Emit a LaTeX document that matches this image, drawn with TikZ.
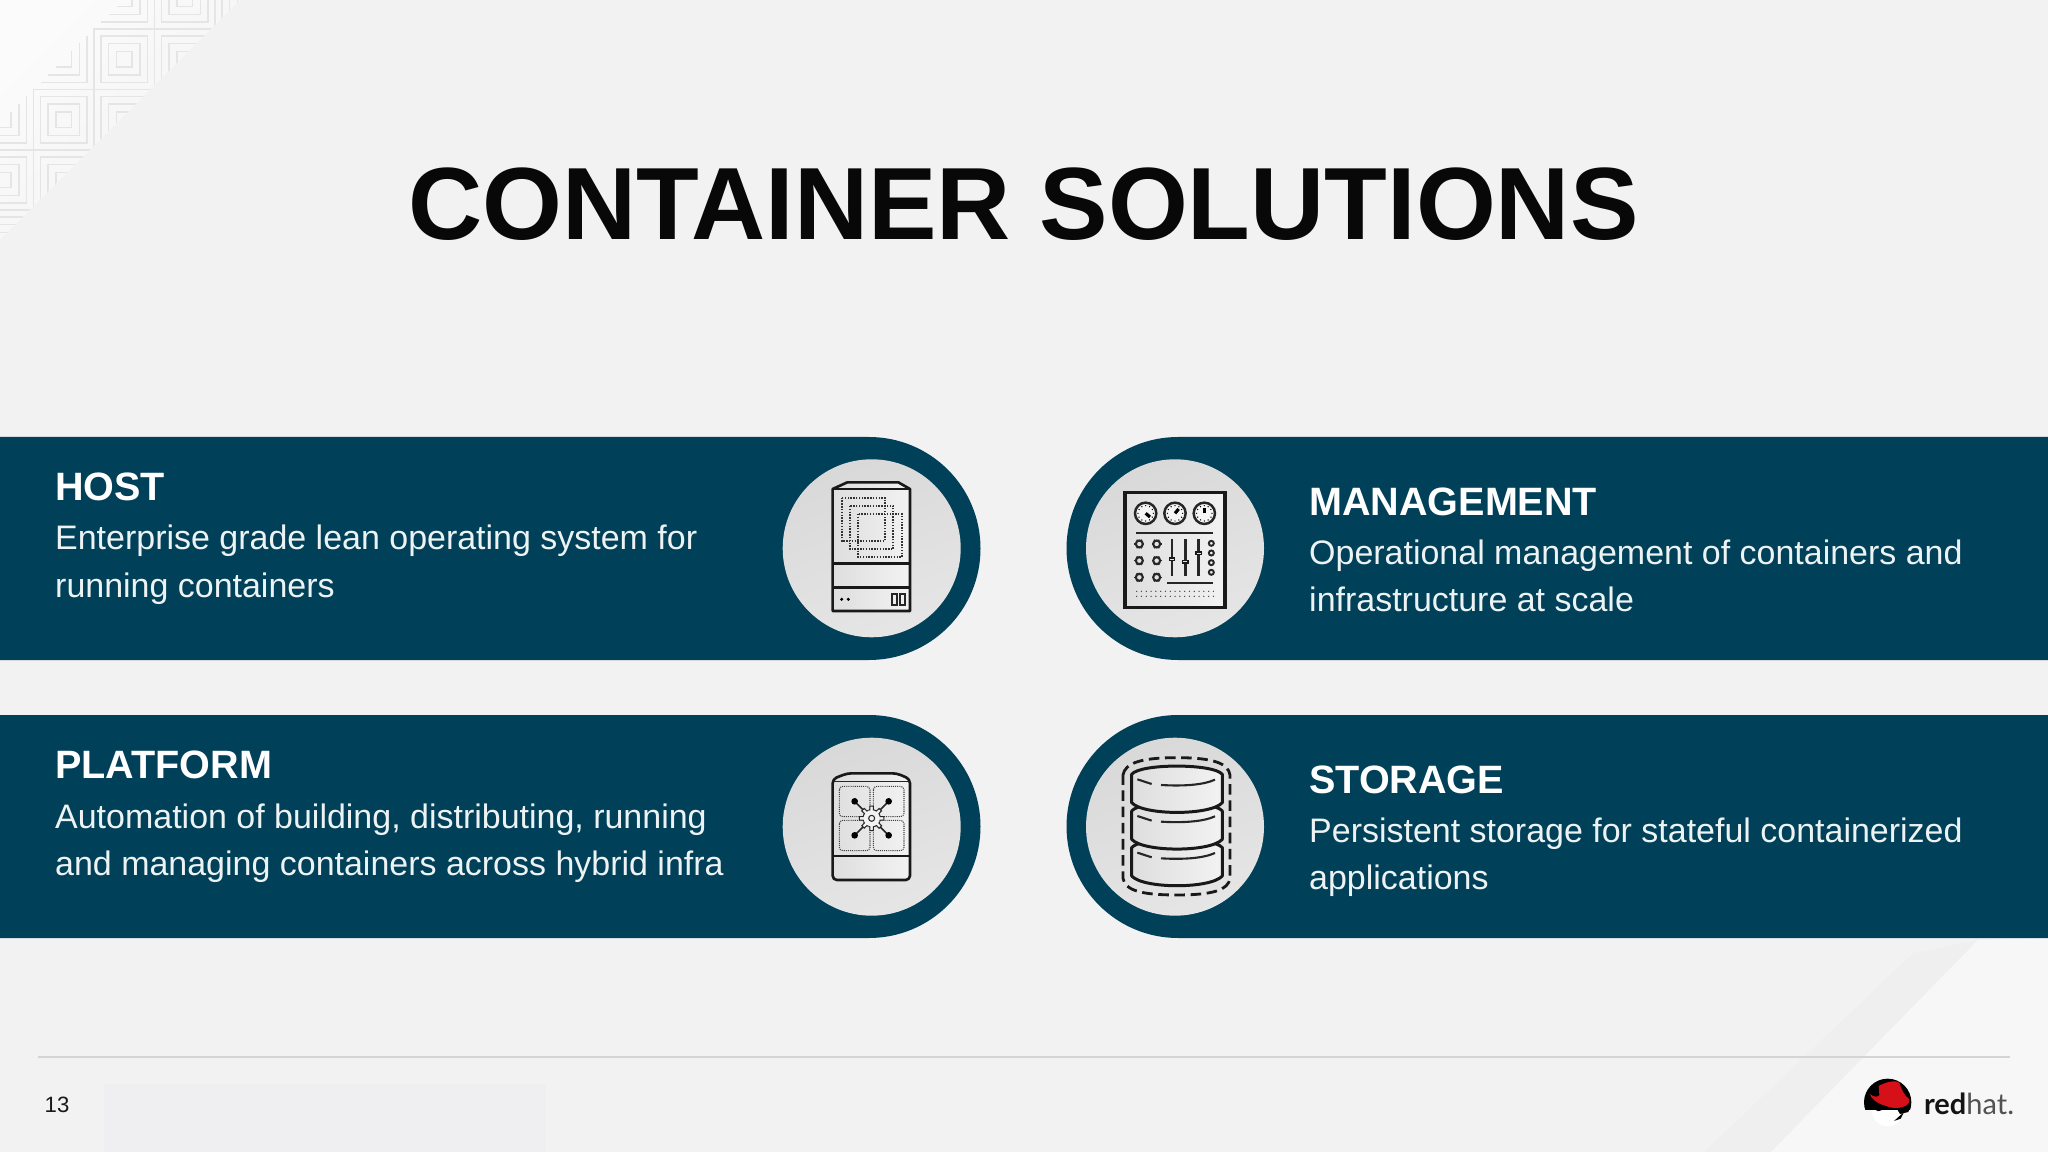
\documentclass[tikz,border=0pt]{standalone}
\usepackage{fontspec}
\setmainfont{Liberation Sans}
\newfontfamily\logofont{Lato}
\usepackage{tikz}
\usetikzlibrary{positioning}
\definecolor{bandblue}{RGB}{0,64,89}
\definecolor{slidebg}{RGB}{242,242,243}
\definecolor{patgrey}{RGB}{229,229,230}
\definecolor{footbox}{RGB}{239,238,240}
\definecolor{hatred}{RGB}{214,16,24}
\tikzset{
	headtext/.style={anchor=base west,text=white,inner sep=0pt,font=\bfseries\fontsize{11.25}{13}\selectfont},
	bodytext/.style={anchor=base west,text=white!93!bandblue,inner sep=0pt,font=\fontsize{9.66}{12}\selectfont},
	band/.style={fill=bandblue,draw=none},
	discbg/.style={left color=black!15,right color=black!10,shading angle=20,draw=none},
	patline/.style={draw=patgrey,line width=0.45pt},
	iconline/.style={draw=black!90,line width=0.75pt,line join=round},
	thinline/.style={draw=black!85,line width=0.4pt},
	iconfill/.style={left color=black!13,right color=black!5}
}
\begin{document}
\begin{tikzpicture}[x=0.01cm,y=-0.01cm]
	\useasboundingbox (0,0) rectangle (2048,1152);
	\fill[slidebg] (0,0) rectangle (2048,1152);

	% corner pattern
	\shade[left color=black!1.5,right color=slidebg,shading angle=45] (0,0) -- (240,0) -- (0,240) -- cycle;
	\begin{scope}
		\clip (0,0) -- (240,0) -- (0,240) -- cycle;
		\foreach \cx/\cy in {154.4/-31.4,94/29,33.6/89.4,-26.8/149.8} {
			\draw[patline] (\cx,\cy) rectangle ++(60.4,60.4);
			\foreach \i in {7,14.5,22.5}
				\draw[patline] (\cx+\i,\cy+\i) rectangle (\cx+60.4-\i,\cy+60.4-\i);
		}
		\foreach \cx/\cy in {94/-31.4,33.6/29,-26.8/89.4,-87.2/149.8}
			\foreach \i in {7,14.5,22.5}
				\draw[patline] (\cx+60.4-\i,\cy+\i) -- (\cx+60.4-\i,\cy+60.4-\i) -- (\cx+\i,\cy+60.4-\i);
		\foreach \cx/\cy in {214.8/-31.4,154.4/29,94/89.4,33.6/149.8,-26.8/210.2}
			\foreach \i in {7,14.5,22.5}
				\draw[patline] (\cx+\i,\cy+60.4-\i) -- (\cx+\i,\cy+\i) -- (\cx+60.4-\i,\cy+\i);
	\end{scope}

	% lower right corner
	\fill[black,fill opacity=0.012] (1913,953) -- (1978,940) -- (1771,1152) -- (1704,1152) -- cycle;
	\fill[white,fill opacity=0.45] (1978,940) -- (2048,938) -- (2048,1152) -- (1771,1152) -- cycle;

	\node[anchor=base,inner sep=0pt,font=\bfseries\fontsize{29.2}{34}\selectfont,text=black!97] (title) at (1023.5,240) {CONTAINER SOLUTIONS};

	% bands
	\fill[band] (0,437) -- (869,437) arc[start angle=-90,end angle=90,radius=111.5] -- (0,660) -- cycle;
	\fill[band] (0,715) -- (869,715) arc[start angle=-90,end angle=90,radius=111.5] -- (0,938) -- cycle;
	\fill[band] (2048,437) -- (1178,437) arc[start angle=-90,end angle=-270,radius=111.5] -- (2048,660) -- cycle;
	\fill[band] (2048,715) -- (1178,715) arc[start angle=-90,end angle=-270,radius=111.5] -- (2048,938) -- cycle;
	\shade[discbg] (871.7,548.3) circle[radius=89];
	\shade[discbg] (871.7,826.7) circle[radius=89];
	\shade[discbg] (1175,548.3) circle[radius=89];
	\shade[discbg] (1175,826.7) circle[radius=89];

	\node[headtext] (hosthead) at (54.5,501) {HOST};
	\node[bodytext] (hostone) at (54.5,550) {Enterprise grade lean operating system for};
	\node[bodytext] (hosttwo) at (54.5,597) {running containers};
	\node[headtext] (platformhead) at (54.5,778) {PLATFORM};
	\node[bodytext] (platformone) at (54.5,828) {Automation of building, distributing, running};
	\node[bodytext] (platformtwo) at (54.5,875) {and managing containers across hybrid infra};
	\node[headtext] (managehead) at (1308.5,515) {MANAGEMENT};
	\node[bodytext] (manageone) at (1308.5,564.5) {Operational management of containers and};
	\node[bodytext] (managetwo) at (1308.5,611.5) {infrastructure at scale};
	\node[headtext] (storagehead) at (1308.5,793) {STORAGE};
	\node[bodytext] (storageone) at (1308.5,842.5) {Persistent storage for stateful containerized};
	\node[bodytext] (storagetwo) at (1308.5,889.5) {applications};

	% host icon
	\begin{scope}[shift={(760,440)},scale=0.3333]
		\shade[iconfill,iconline] (218,147) -- (262,127) -- (415,127) -- (450,147) -- (450,513) -- (218,513) -- cycle;
		\draw[iconline] (218,147) -- (450,147);
		\draw[iconline] (218,370) -- (450,370);
		\draw[iconline] (218,443) -- (450,443);
		\foreach \a/\b in {245/173,270/198,295/222}
			\draw[black!80,line width=0.5pt,dash pattern=on 0.4pt off 0.4pt] (\a,\b) rectangle ++(130,130);
		\fill[black] (245,478) circle[radius=5] (265,478) circle[radius=5];
		\draw[thinline,line width=0.5pt] (396,463) rectangle (411,495) (420,463) rectangle (435,495);
	\end{scope}

	% platform icon
	\begin{scope}[shift={(760,715)},scale=0.3333]
		\shade[iconfill,iconline,rounded corners=1.2pt] (218,192) -- (262,175) -- (410,175) -- (450,192) -- (450,495) -- (218,495) -- cycle;
		\draw[thinline] (218,200) -- (450,200);
		\draw[iconline] (218,423) -- (450,423);
		\foreach \a/\b in {238/214,340/214,238/316,340/316}
			\draw[black!75,line width=0.3pt,dash pattern=on 0.3pt off 0.3pt,rounded corners=1pt] (\a,\b) rectangle ++(92,91);
		\foreach \a/\b in {284/259,386/259,284/361,386/361} {
			\draw[thinline,line width=0.45pt] (335,310) -- (\a,\b);
			\fill[black] (\a,\b) circle[radius=10];
		}
		\begin{scope}[shift={(335,310)}]
			\fill[black!5] (0,0) circle[radius=26];
			\foreach \t in {0,45,...,315}
				\filldraw[thinline,line width=0.3pt,fill=black!5] (\t-22:26) -- (\t-12:26) -- (\t-8:37) -- (\t+8:37) -- (\t+12:26) -- (\t+22:26);
			\draw[thinline,line width=0.3pt] (0,0) circle[radius=9];
		\end{scope}
	\end{scope}

	% management icon
	\begin{scope}[shift={(1060,440)},scale=0.3333]
		\shade[iconfill,draw=black!90,line width=0.95pt] (195,158) rectangle (495,503);
		\foreach \gx/\ang in {257/40,345/-50,433/-90} {
			\draw[thinline,line width=0.7pt,fill=black!4] (\gx,220) circle[radius=32];
			\foreach \t in {0,30,...,330}
				\fill[black] (\gx,220) ++(\t:23) circle[radius=2.2];
			\draw[black,line width=0.9pt] (\gx,220) -- ++(\ang:17);
		}
		\draw[thinline,line width=0.55pt] (228,279) -- (460,279);
		\foreach \kx in {238,290}
			\foreach \ky in {312,362,412} {
				\draw[thinline,line width=0.6pt] (\kx,\ky) circle[radius=10.5];
				\foreach \t in {0,60,...,300}
					\draw[thinline,line width=0.35pt] (\kx,\ky) ++(\t:11) -- ++(\t:4);
			}
		\foreach \sx/\sy in {336/358,376/365,416/340} {
			\draw[thinline,line width=0.7pt] (\sx,298) -- (\sx,408);
			\fill[black!90] (\sx-10,\sy-6) rectangle (\sx+10,\sy+6);
			\fill[black!10] (\sx-6,\sy-2) rectangle (\sx+6,\sy+2);
		}
		\foreach \ky in {310,339,368,397}
			\draw[thinline,line width=0.55pt] (454,\ky) circle[radius=7.5];
		\draw[thinline,line width=0.55pt] (322,429) -- (460,429);
		\foreach \dy in {454,469}
			\foreach \dx in {0,1,...,16}
				\fill[black!75] (230+14.4*\dx,\dy) circle[radius=2.1];
	\end{scope}

	% storage icon
	\begin{scope}[shift={(1060,715)},scale=0.3333]
		\draw[black!90,line width=0.8pt,dash pattern=on 3pt off 1.6pt] (189,180) .. controls (195,145) and (240,128) .. (350,128) .. controls (460,128) and (505,145) .. (510,180) -- (510,490) .. controls (505,525) and (460,540) .. (350,540) .. controls (240,540) and (195,525) .. (189,490) -- cycle;
		\foreach \y in {220,110,0} {
			\shade[iconfill,iconline,line width=0.85pt] (215,178+\y) -- (215,263+\y) .. controls (250,302+\y) and (452,302+\y) .. (487,263+\y) -- (487,178+\y) .. controls (460,145+\y) and (240,145+\y) .. (215,178+\y) -- cycle;
		}
		\foreach \y in {0,110,220} {
			\draw[thinline,line width=0.6pt] (232,193+\y) -- (275,207+\y);
			\draw[thinline,line width=0.6pt] (303,210+\y) .. controls (370,214+\y) and (430,210+\y) .. (465,194+\y);
		}
	\end{scope}

	% footer
	\draw[black!17,line width=0.6pt] (38,1057) -- (2010,1057);
	\fill[footbox] (104,1084) rectangle (546,1152);
	\node[anchor=base west,inner sep=0pt,font=\fontsize{6.3}{8}\selectfont,text=black!90] (pagenum) at (44,1112) {13};

	% logo
	\begin{scope}[shift={(1780,1040)},scale=0.3333]
		\fill[white] (323,212) circle[radius=47];
		\begin{scope}
			\clip (240,100) rectangle (410,208);
			\fill[black] (323,187) circle[radius=71];
		\end{scope}
		\fill[black] (350,205) -- (392,195) -- (385,216) -- (360,222) -- cycle;
		\fill[hatred] (296,138) .. controls (320,125) and (345,120) .. (358,128) .. controls (365,150) and (372,165) .. (388,178) .. controls (392,200) and (350,212) .. (318,198) .. controls (290,190) and (272,175) .. (270,162) .. controls (280,172) and (295,172) .. (298,165) -- cycle;
		\draw[black,line width=0.5pt] (285,205) .. controls (292,212) and (300,212) .. (304,208);
		\fill[black] (342,243) -- (372,216) -- (362,236) -- cycle;
		\node[anchor=base west,inner sep=0pt,text=black!68,font=\logofont\fontsize{8.25}{10}\selectfont] (logotext) at (430,225) {\textcolor{black!92}{\textbf{red}}hat.};
	\end{scope}
\end{tikzpicture}
\end{document}
